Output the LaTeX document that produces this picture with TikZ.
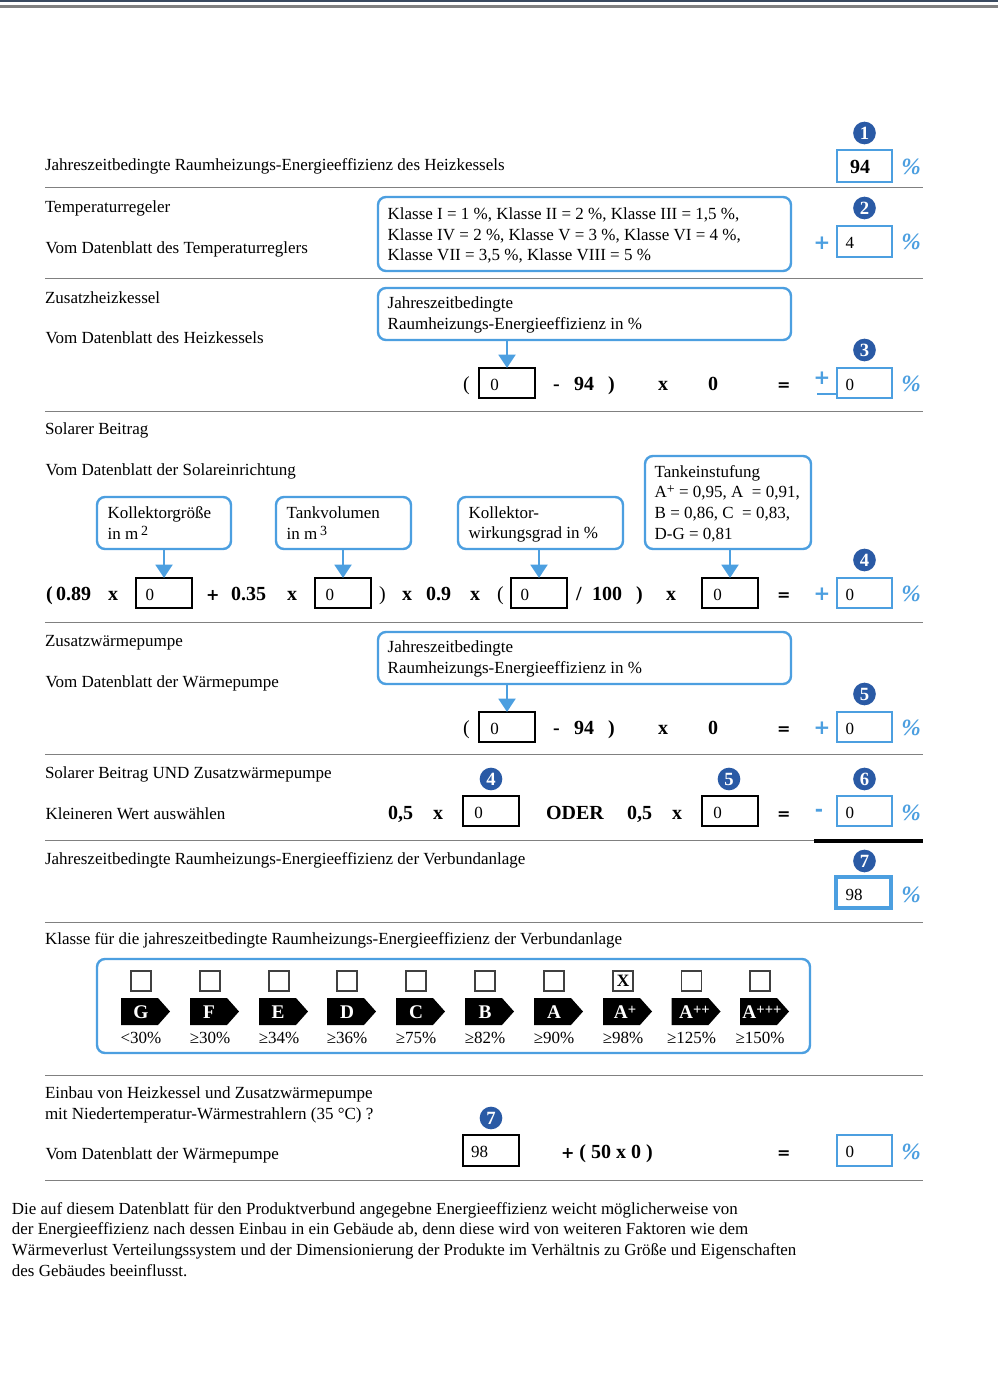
\documentclass[tikz,border=0pt]{standalone}
\usepackage{fontspec}
\setmainfont{Liberation Serif}
\newfontfamily\signfont{DejaVu Sans}
\usetikzlibrary{arrows.meta}
\definecolor{bluee}{HTML}{4C9FE0}
\definecolor{badge}{HTML}{2A5AA5}
\definecolor{rulegray}{HTML}{808080}
\definecolor{topbar}{HTML}{3A4A60}
\tikzset{
  txt/.style={anchor=base west,inner sep=0pt,outer sep=0pt,font=\fontsize{12.75}{15.45}\selectfont,align=left},
  bld/.style={anchor=base west,inner sep=0pt,outer sep=0pt,font=\fontsize{15}{18}\selectfont\bfseries},
  blds/.style={anchor=base west,inner sep=0pt,outer sep=0pt,font=\fontsize{12}{14}\selectfont\signfont\bfseries},
  bluesign/.style={anchor=center,inner sep=0pt,outer sep=0pt,text=bluee,font=\fontsize{15}{15}\selectfont\signfont\bfseries},
  pct/.style={anchor=center,inner sep=0pt,outer sep=0pt,text=bluee,font=\fontsize{17.5}{18}\selectfont\bfseries\itshape},
  badgec/.style={circle,fill=badge,text=white,inner sep=0pt,outer sep=0pt,minimum size=17pt,font=\fontsize{14}{14}\selectfont\bfseries},
  blackbox/.style={draw=black,line width=1.7pt},
  bluebox/.style={draw=bluee,line width=2pt},
  bluethick/.style={draw=bluee,line width=3.6pt},
  callout/.style={draw=bluee,line width=1.8pt,rounded corners=6pt},
  feed/.style={draw=bluee,line width=2.2pt,-{Triangle[width=12.5pt,length=10pt]}},
  sep/.style={draw=rulegray,line width=0.75pt},
  chk/.style={draw=black!75,line width=0.8pt,minimum size=15pt,inner sep=0pt,outer sep=0pt,font=\fontsize{13}{13}\selectfont\bfseries},
  lettr/.style={inner sep=0pt,outer sep=0pt,text=white,font=\fontsize{14.5}{15}\selectfont\bfseries},
  lim/.style={inner sep=0pt,outer sep=0pt,font=\fontsize{12.75}{14}\selectfont}
}
\newcommand{\VB}[7]{%
  \pgfmathsetlengthmacro{\boxw}{(#4-#2)*0.75pt}%
  \pgfmathsetlengthmacro{\boxh}{(#5-#3)*0.75pt}%
  \pgfmathsetlengthmacro{\boxt}{(#4-#2)*0.75pt-14.5pt}%
  \node[#6,minimum width=\boxw,minimum height=\boxh,inner xsep=7.25pt,inner ysep=0pt,outer sep=0pt,text width=\boxt,align=left,font=\fontsize{12.75}{15.45}\selectfont] (#1) at ({(#2+#4)/2},{(#3+#5)/2}) {\spaceskip=0pt\xspaceskip=0pt\frenchspacing #7};}
\newcommand{\dn}[1]{\rule{0pt}{#1pt}}
\newcommand{\supm}[1]{\raisebox{3pt}{\fontsize{10.5}{11}\selectfont #1}}
\begin{document}
\begin{tikzpicture}[x=0.75pt,y=-0.75pt]
\fill[white] (0,0) rectangle (998,1394);
\useasboundingbox (0,0) rectangle (998,1394);
% top bars
\fill[topbar] (0,0) rectangle (998,2);
\fill[rulegray] (0,4.6) rectangle (998,8);
% separators
\foreach \yy in {188,278.5,411,622.5,754,840.5,922,1075,1180}{\draw[sep] (45,\yy) -- (923,\yy);}
\draw[black,line width=3.4pt] (814,841) -- (923,841);
% left texts
\node[txt] (t1) at (45,171) {Jahreszeitbedingte Raumheizungs-Energieeffizienz des Heizkessels};
\node[txt] (t2) at (45,212.5) {Temperaturregeler};
\node[txt] (t3) at (45.5,253.5) {Vom Datenblatt des Temperaturreglers};
\node[txt] (t4) at (45,303.5) {Zusatzheizkessel};
\node[txt] (t5) at (45.5,344) {Vom Datenblatt des Heizkessels};
\node[txt] (t6) at (45,434) {Solarer Beitrag};
\node[txt] (t7) at (45.5,475) {Vom Datenblatt der Solareinrichtung};
\node[txt] (t8) at (45,646) {Zusatzwärmepumpe};
\node[txt] (t9) at (45.5,687) {Vom Datenblatt der Wärmepumpe};
\node[txt] (t10) at (45,778) {Solarer Beitrag UND Zusatzwärmepumpe};
\node[txt] (t11) at (45.5,819) {Kleineren Wert auswählen};
\node[txt] (t12) at (45,864) {Jahreszeitbedingte Raumheizungs-Energieeffizienz der Verbundanlage};
\node[txt] (t13) at (45,944) {Klasse für die jahreszeitbedingte Raumheizungs-Energieeffizienz der Verbundanlage};
\node[txt] (t14) at (45,1119) {Einbau von Heizkessel und Zusatzwärmepumpe\\mit Niedertemperatur-Wärmestrahlern (35 °C) ?};
\node[txt] (t15) at (45.5,1159) {Vom Datenblatt der Wärmepumpe};
\node[txt,font=\fontsize{12.7}{15.45}\selectfont] (t16) at (12,1276) {Die auf diesem Datenblatt für den Produktverbund angegebne Energieeffizienz weicht möglicherweise von\\der Energieeffizienz nach dessen Einbau in ein Gebäude ab, denn diese wird von weiteren Faktoren wie dem\\Wärmeverlust Verteilungssystem und der Dimensionierung der Produkte im Verhältnis zu Größe und Eigenschaften\\des Gebäudes beeinflusst.};
% callouts
\VB{c1}{378}{197}{791}{271}{callout}{\dn{11.5}Klasse I = 1 \%, Klasse II = 2 \%, Klasse III = 1,5 \%,\\Klasse IV = 2 \%, Klasse V = 3 \%, Klasse VI = 4 \%,\\Klasse VII = 3,5 \%, Klasse VIII = 5 \%}
\VB{c2}{378}{288}{791}{340}{callout}{\dn{10.5}Jahreszeitbedingte\\Raumheizungs-Energieeffizienz in \%}
\VB{c3}{97}{497}{231}{549}{callout}{\hspace*{0.7pt}Kollektorgröße\\\hspace*{0.7pt}in m\,\supm{2}}
\VB{c4}{276}{497}{411}{549}{callout}{\hspace*{0.7pt}Tankvolumen\\\hspace*{0.7pt}in m\,\supm{3}}
\VB{c5}{458}{497}{623}{549}{callout}{\dn{11}\hspace*{0.7pt}Kollektor-\\\hspace*{0.7pt}wirkungsgrad in \%}
\VB{c6}{645}{456}{811}{549}{callout}{\dn{10.5}Tankeinstufung\\A\supm{+} = 0,95, A\ \ = 0,91,\\B = 0,86, C\ \ = 0,83,\\D-G = 0,81}
\VB{c7}{378}{632}{791}{684}{callout}{\dn{10.5}Jahreszeitbedingte\\Raumheizungs-Energieeffizienz in \%}
% value boxes
\VB{v1}{837}{150}{892}{182}{bluebox}{\dn{12}\hspace*{2.5pt}\fontsize{15}{18}\selectfont\bfseries 94}
\VB{v2}{837}{226}{892}{257}{bluebox}{\dn{11.2}\hspace*{-0.7pt}4}
\VB{b3}{479}{368}{535}{398}{blackbox}{\dn{11.2}\hspace*{1.2pt}0}
\VB{v3}{837}{368}{892}{398}{bluebox}{\dn{11.2}\hspace*{-0.7pt}0}
\VB{b4a}{136}{578}{192}{608}{blackbox}{\dn{11.2}0}
\VB{b4b}{315}{578}{371}{608}{blackbox}{\dn{11.2}\hspace*{0.7pt}0}
\VB{b4c}{511}{578}{567}{608}{blackbox}{\dn{11.2}0}
\VB{b4d}{702}{578}{758}{608}{blackbox}{\dn{11.2}\hspace*{1.2pt}0}
\VB{v4}{837}{578}{892}{608}{bluebox}{\dn{11.2}\hspace*{-0.7pt}0}
\VB{b5}{479}{712}{535}{742}{blackbox}{\dn{11.2}\hspace*{1.2pt}0}
\VB{v5}{837}{712}{892}{742}{bluebox}{\dn{11.2}\hspace*{-0.7pt}0}
\VB{b6a}{463}{796}{519}{826}{blackbox}{\dn{11.2}\hspace*{1.2pt}0}
\VB{b6b}{702}{796}{758}{826}{blackbox}{\dn{11.2}\hspace*{1.2pt}0}
\VB{v6}{837}{796}{892}{826}{bluebox}{\dn{11.2}\hspace*{-0.7pt}0}
\VB{v7}{836}{877}{891}{908}{bluethick}{\dn{11.6}98}
\VB{b8}{463}{1135}{519}{1166}{blackbox}{\dn{11.2}\hspace*{-1.2pt}98}
\VB{v8}{837}{1135}{892}{1166}{bluebox}{\dn{11.2}\hspace*{-0.7pt}0}
% connectors
\draw[feed] (b3.north |- c2.south) -- (b3.north);
\draw[feed] (b4a.north |- c3.south) -- (b4a.north);
\draw[feed] (b4b.north |- c4.south) -- (b4b.north);
\draw[feed] (b4c.north |- c5.south) -- (b4c.north);
\draw[feed] (b4d.north |- c6.south) -- (b4d.north);
\draw[feed] (b5.north |- c7.south) -- (b5.north);
% badges
\node[badgec] (n1) at (864.5,133) {1};
\node[badgec] (n2) at (864.5,208) {2};
\node[badgec] (n3) at (864.5,350) {3};
\node[badgec] (n4) at (864.5,560) {4};
\node[badgec] (n5) at (864.5,694) {5};
\node[badgec] (n4b) at (491,779) {4};
\node[badgec] (n5b) at (729,779) {5};
\node[badgec] (n6) at (864.5,779) {6};
\node[badgec] (n7) at (864.5,861) {7};
\node[badgec] (n7b) at (491,1118) {7};
% percents
\foreach \nn/\yy in {a/167,b/242,c/384,d/594,e/728,f/813,g/895,h/1152}{\node[pct] (p\nn) at (911,\yy) {\%};}
% blue signs
\node[bluesign] (s2) at (822,243) {+};
\node[bluesign] (s3) at (822,378) {+};
\draw[draw=bluee,line width=1.5pt] (817,394) -- (836,394);
\node[bluesign] (s4) at (822,594) {+};
\node[bluesign] (s5) at (822,728) {+};
\node[bluesign] (s6) at (819,813) {-};
% row 3
\node[bld] (r3a) at (463,390) {\mdseries(};
\node[bld] (r3b) at (553,390) {-};
\node[bld] (r3c) at (574,390) {94};
\node[bld] (r3d) at (608,390) {)};
\node[bld] (r3e) at (658,390) {x};
\node[bld] (r3f) at (708,390) {0};
\node[blds] (r3g) at (777,390) {=};
% row solar
\node[bld] (r4a) at (46,600) {(};
\node[bld] (r4b) at (56,600) {0.89};
\node[bld] (r4c) at (108,600) {x};
\node[blds] (r4d) at (206,600) {+};
\node[bld] (r4e) at (231,600) {0.35};
\node[bld] (r4f) at (287,600) {x};
\node[bld] (r4g) at (379,600) {\mdseries)};
\node[bld] (r4h) at (402,600) {x};
\node[bld] (r4i) at (426,600) {0.9};
\node[bld] (r4j) at (470,600) {x};
\node[bld] (r4k) at (497,600) {\mdseries(};
\node[bld] (r4l) at (576,600) {/};
\node[bld] (r4m) at (592,600) {100};
\node[bld] (r4n) at (636,600) {)};
\node[bld] (r4o) at (666,600) {x};
\node[blds] (r4p) at (777,600) {=};
% row 5
\node[bld] (r5a) at (463,734) {\mdseries(};
\node[bld] (r5b) at (553,734) {-};
\node[bld] (r5c) at (574,734) {94};
\node[bld] (r5d) at (608,734) {)};
\node[bld] (r5e) at (658,734) {x};
\node[bld] (r5f) at (708,734) {0};
\node[blds] (r5g) at (777,734) {=};
% row 6
\node[bld] (r6a) at (388,819) {0,5};
\node[bld] (r6b) at (433,819) {x};
\node[bld] (r6c) at (546,819) {ODER};
\node[bld] (r6d) at (627,819) {0,5};
\node[bld] (r6e) at (672,819) {x};
\node[blds] (r6f) at (777,819) {=};
% row 8
\node[bld] (r8a) at (561,1158) {{\fontsize{12}{14}\selectfont\signfont\bfseries +}\ ( 50 x 0 )};
\node[blds] (r8b) at (777,1158) {=};
% class frame
\draw[callout] (97,959) rectangle (810,1053);
\foreach \nn/\cx/\dx/\lab/\lim/\mk in {
  1/141/0/G/<30\%/{},
  2/210/-1/F/≥30\%/{},
  3/279/-1/E/≥34\%/{},
  4/347/0/D/≥36\%/{},
  5/416/0/C/≥75\%/{},
  6/485/0/B/≥82\%/{},
  7/554/0/A/≥90\%/{},
  8/623/2/{A\raisebox{3pt}{\fontsize{11}{11}\selectfont +}}/≥98\%/X,
  9/691.5/3/{A\raisebox{3pt}{\fontsize{11}{11}\selectfont ++}}/≥125\%/{},
  10/760/2/{A\raisebox{3pt}{\fontsize{11}{11}\selectfont +++}}/≥150\%/{}}{
  \node[chk] (k\nn) at (\cx,981) {\mk};
  \fill[black] (\cx-20,998) -- (\cx+17,998) -- (\cx+29,1011.5) -- (\cx+17,1025) -- (\cx-20,1025) -- cycle;
  \node[lettr] (e\nn) at (\cx+\dx,1012) {\lab};
  \node[lim] (l\nn) at (\cx,1038) {\lim};
}
\end{tikzpicture}
\end{document}
